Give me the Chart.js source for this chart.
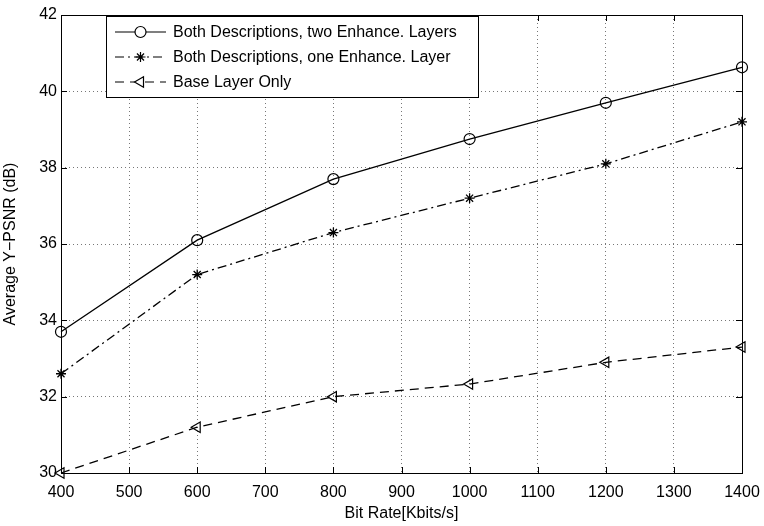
<!DOCTYPE html>
<html>
<head>
<meta charset="utf-8">
<script src="https://cdn.jsdelivr.net/npm/chart.js@4/dist/chart.umd.min.js"></script>
<style>
  html, body { margin: 0; padding: 0; background: #fff; }
  #wrap { width: 764px; height: 526px; }
</style>
</head>
<body>
<div id="wrap"><canvas id="psnrChart" width="764" height="526"></canvas></div>
<script>
// bit rates on the x axis (Kbits/s)
const bitRates = [400, 600, 800, 1000, 1200, 1400];

// Y-PSNR values (dB)
const twoEnhance = [33.7, 36.1, 37.7, 38.75, 39.7, 40.63];
const oneEnhance = [32.6, 35.2, 36.3, 37.2, 38.1, 39.2];
const baseOnly = [30.0, 31.2, 32.0, 32.33, 32.9, 33.3];

const seriesNames = [
  'Both Descriptions, two Enhance. Layers',
  'Both Descriptions, one Enhance. Layer',
  'Base Layer Only'
];

const FONT = '"Liberation Sans", Arial, Helvetica, sans-serif';

const toPoints = (vals) => bitRates.map((x, i) => ({ x: x, y: vals[i] }));

// box round the plot, inward ticks on all four sides, legend inside the axes
const matlabFrame = {
  id: 'matlabFrame',
  afterDraw(chart) {
    const { ctx, chartArea: a, scales } = chart;
    ctx.save();
    ctx.strokeStyle = '#000';
    ctx.lineWidth = 1;
    ctx.setLineDash([]);
    ctx.strokeRect(a.left + 0.5, a.top + 0.5, a.right - a.left, a.bottom - a.top);

    const tick = 6;
    ctx.beginPath();
    scales.x.ticks.forEach(t => {
      const px = Math.round(scales.x.getPixelForValue(t.value)) + 0.5;
      ctx.moveTo(px, a.bottom); ctx.lineTo(px, a.bottom - tick);
      ctx.moveTo(px, a.top); ctx.lineTo(px, a.top + tick);
    });
    scales.y.ticks.forEach(t => {
      const py = Math.round(scales.y.getPixelForValue(t.value)) + 0.5;
      ctx.moveTo(a.left, py); ctx.lineTo(a.left + tick, py);
      ctx.moveTo(a.right, py); ctx.lineTo(a.right - tick, py);
    });
    ctx.stroke();

    // legend
    const bx = 106, by = 16, bw = 372, bh = 81;
    ctx.fillStyle = '#fff';
    ctx.fillRect(bx, by, bw, bh);
    ctx.strokeRect(bx + 0.5, by + 0.5, bw, bh);
    ctx.font = '16px ' + FONT;
    ctx.textBaseline = 'middle';
    chart.data.datasets.forEach((ds, i) => {
      const ry = by + 16 + i * 25;
      ctx.strokeStyle = '#000';
      ctx.lineWidth = 1.2;
      ctx.setLineDash(ds.borderDash || []);
      ctx.beginPath();
      ctx.moveTo(115, ry);
      ctx.lineTo(166, ry);
      ctx.stroke();
      ctx.setLineDash([]);
      ctx.fillStyle = '#fff';
      Chart.helpers.drawPoint(ctx, {
        pointStyle: ds.pointStyle,
        rotation: ds.pointRotation || 0,
        radius: ds.pointRadius,
        borderWidth: 1.2
      }, 140.5, ry);
      ctx.fillStyle = '#000';
      ctx.fillText(ds.label, 173, ry + 1);
    });
    ctx.restore();
  }
};

new Chart(document.getElementById('psnrChart'), {
  type: 'line',
  data: {
    datasets: [
      {
        label: seriesNames[0],
        data: toPoints(twoEnhance),
        borderColor: '#000',
        borderWidth: 1.3,
        pointStyle: 'circle',
        pointRadius: 5.5,
        pointBackgroundColor: 'rgba(0,0,0,0)',
        pointBorderColor: '#000',
        pointBorderWidth: 1.2,
        clip: false
      },
      {
        label: seriesNames[1],
        data: toPoints(oneEnhance),
        borderColor: '#000',
        borderWidth: 1.3,
        borderDash: [9, 4, 2, 4],
        pointStyle: 'star',
        pointRadius: 5,
        pointBorderColor: '#000',
        pointBorderWidth: 1.3,
        clip: false
      },
      {
        label: seriesNames[2],
        data: toPoints(baseOnly),
        borderColor: '#000',
        borderWidth: 1.3,
        borderDash: [9, 6],
        pointStyle: 'triangle',
        pointRotation: -90,
        pointRadius: 6,
        pointBackgroundColor: 'rgba(0,0,0,0)',
        pointBorderColor: '#000',
        pointBorderWidth: 1.2,
        clip: false
      }
    ]
  },
  options: {
    responsive: false,
    animation: false,
    layout: { padding: { left: 0, top: 15, right: 22, bottom: 0 } },
    plugins: { legend: { display: false }, tooltip: { enabled: false } },
    elements: { line: { tension: 0 } },
    scales: {
      x: {
        type: 'linear',
        min: 400,
        max: 1400,
        afterFit: (s) => { s.height = 53; s.paddingLeft = 0; s.paddingRight = 0; },
        ticks: {
          stepSize: 100,
          padding: 10,
          color: '#000',
          font: { family: FONT, size: 16 },
          callback: (v) => String(v)
        },
        grid: { color: '#777', drawTicks: false },
        border: { display: false, dash: [1, 3] },
        title: {
          display: true,
          text: 'Bit Rate[Kbits/s]',
          color: '#000',
          font: { family: FONT, size: 16 },
          padding: { top: 0, bottom: 3 }
        }
      },
      y: {
        min: 30,
        max: 42,
        afterFit: (s) => { s.width = 61; s.paddingTop = 0; s.paddingBottom = 0; },
        ticks: { stepSize: 2, padding: 4, color: '#000', font: { family: FONT, size: 16 } },
        grid: { color: '#777', drawTicks: false },
        border: { display: false, dash: [1, 3] },
        title: {
          display: true,
          text: 'Average Y\u2212PSNR (dB)',
          color: '#000',
          font: { family: FONT, size: 16 },
          padding: { top: 1, bottom: 0 }
        }
      }
    }
  },
  plugins: [matlabFrame]
});
</script>
</body>
</html>
